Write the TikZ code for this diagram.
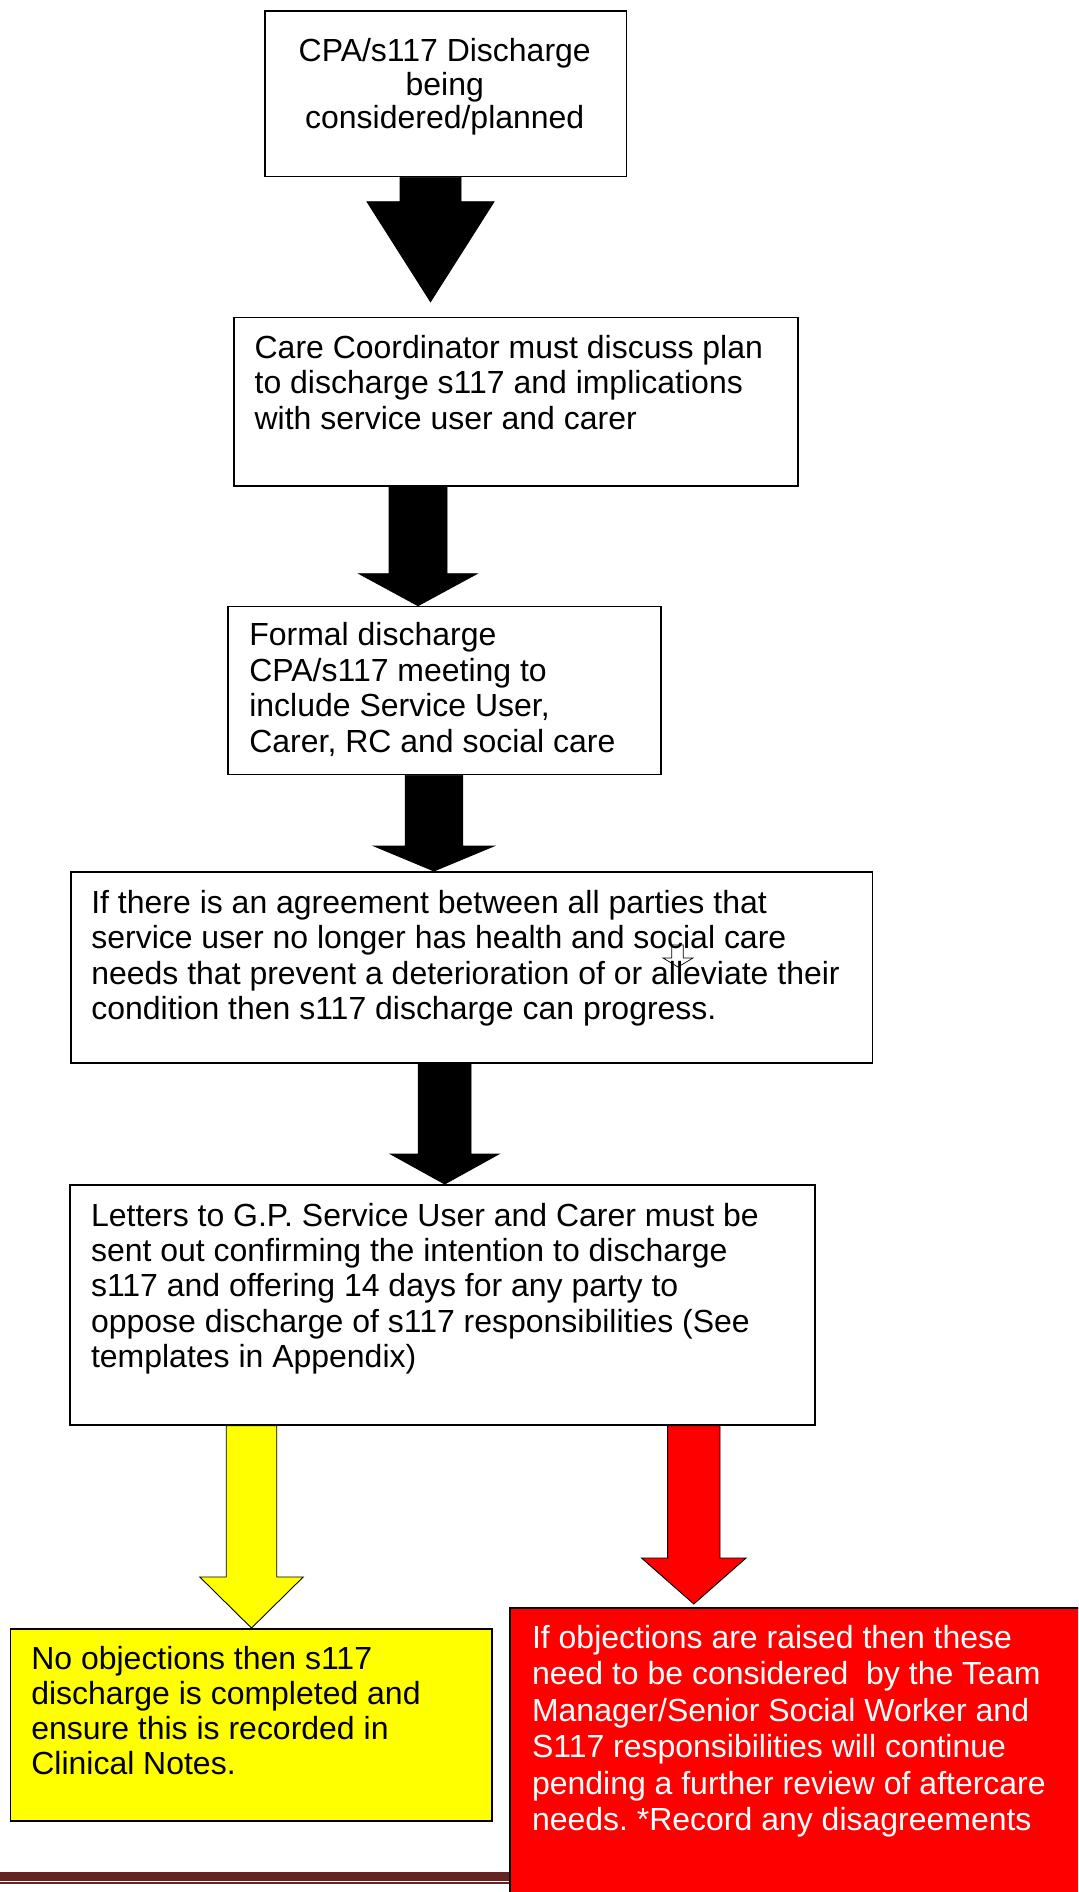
\documentclass[tikz,border=0pt]{standalone}
\usepackage{fontspec}
\setmainfont{Liberation Sans}
\usetikzlibrary{calc}
\definecolor{footred}{RGB}{99,36,35}
\definecolor{hiyellow}{RGB}{255,255,0}
\definecolor{hired}{RGB}{255,0,0}
\newcommand{\pxu}{0.02cm}
% block arrow: [fill]{from}{to}{axis x}{half shaft}{half head}{head length}
\newcommand{\fatarrow}[7][black]{%
  \path (#4,0 |- #2) coordinate (tail) (#4,0 |- #3) coordinate (tip);
  \filldraw[fat, fill=#1] (tip) -- ($(tip)+(-#6,-#7)$) -- ($(tip)+(-#5,-#7)$)
    -- ($(tail)+(-#5,0)$) -- ($(tail)+(#5,0)$) -- ($(tip)+(#5,-#7)$)
    -- ($(tip)+(#6,-#7)$) -- cycle;}
\frenchspacing
\begin{document}
\begin{tikzpicture}[x=0.02cm,y=-0.02cm,line join=miter,
  box/.style={draw, line width=0.9pt, anchor=north west, inner sep=0pt},
  txt/.style={anchor=base west, inner sep=0pt, font=\fontsize{18.2}{20.2}\selectfont},
  fat/.style={draw=black, line width=0.5pt}]
\useasboundingbox (0,0) rectangle (1078,1892);
\clip (0,0) rectangle (1078,1892);
% footer rule
\fill[footred] (0,1872) rectangle (509,1880.5);
\fill[footred] (0,1882) rectangle (509,1883.7);
% boxes
\node[box, minimum width=361.5*\pxu, minimum height=165.7*\pxu] (b1) at (264,10) {};
\node[box, minimum width=563.7*\pxu, minimum height=168.6*\pxu] (b2) at (233.3,316.7) {};
\node[box, minimum width=433*\pxu, minimum height=168*\pxu] (b3) at (227.3,605.7) {};
\node[box, minimum width=801.7*\pxu, minimum height=191.3*\pxu] (b4) at (70,871) {};
\node[box, minimum width=745*\pxu, minimum height=240*\pxu] (b5) at (69.3,1184) {};
\node[box, fill=hiyellow, minimum width=481.4*\pxu, minimum height=192*\pxu] (b6) at (9.6,1628) {};
\node[box, fill=hired, minimum width=600*\pxu, minimum height=300*\pxu] (b7) at (509,1607.3) {};
\coordinate (g2) at ([yshift=15*\pxu]b2.north);
\coordinate (g7) at ([yshift=3.3*\pxu]b7.north);
% arrows
\fatarrow{b1.south}{g2}{430.5}{30.5}{63.5}{100}
\fatarrow{b2.south}{b3.north}{418}{29}{59}{32}
\fatarrow{b3.south}{b4.north}{434}{28.8}{60}{25}
\fatarrow{b4.south}{b5.north}{444.7}{26.3}{54.2}{30}
\fatarrow[hiyellow]{b5.south}{b6.north}{251.5}{25.3}{51.7}{51}
\fatarrow[hired]{b5.south}{g7}{693.8}{26.2}{52.3}{46}
% stray glyph in box 4
\draw[line width=0.4pt] (678,967) -- (663,958) -- (671.7,958) -- (671.7,945)
  -- (683.3,945) -- (683.3,958) -- (693,958) -- cycle;
% texts
\node[txt, anchor=base] (t1) at (444.75,62) {\parbox[t]{9cm}{\centering
  \fontsize{18.2}{18.8}\selectfont CPA/s117 Discharge\\ being\\ considered/planned}};
\node[txt] (t2) at (254.3,358.3) {\parbox[t]{11cm}{Care Coordinator must discuss plan\\
  to discharge s117 and implications\\ with service user and carer}};
\node[txt] (t3) at (249,645.7) {\parbox[t]{8.5cm}{Formal discharge\\ CPA/s117 meeting to\\
  include Service User,\\ Carer, RC and social care}};
\node[txt] (t4) at (91,913.3) {\parbox[t]{15.5cm}{If there is an agreement between all parties that\\
  service user no longer has health and social care\\
  needs that prevent a deterioration of or alleviate their\\
  condition then s117 discharge can progress.}};
\node[txt] (t5) at (90.7,1226) {\parbox[t]{14.5cm}{Letters to G.P. Service User and Carer must be\\
  sent out confirming the intention to discharge\\
  s117 and offering 14 days for any party to\\
  oppose discharge of s117 responsibilities (See\\
  templates in Appendix)}};
\node[txt] (t6) at (31,1669) {\parbox[t]{9cm}{\fontsize{18.2}{20}\selectfont No objections then s117\\
  discharge is completed and\\ ensure this is recorded in\\ Clinical Notes.}};
\node[txt, text=white] (t7) at (531.7,1648) {\parbox[t]{10.5cm}{\fontsize{18.2}{20.8}\selectfont
  If objections are raised then these\\
  need to be considered~ by the Team\\ Manager/Senior Social Worker and\\
  S117 responsibilities will continue\\ pending a further review of aftercare\\
  needs. *Record any disagreements}};
\end{tikzpicture}
\end{document}
